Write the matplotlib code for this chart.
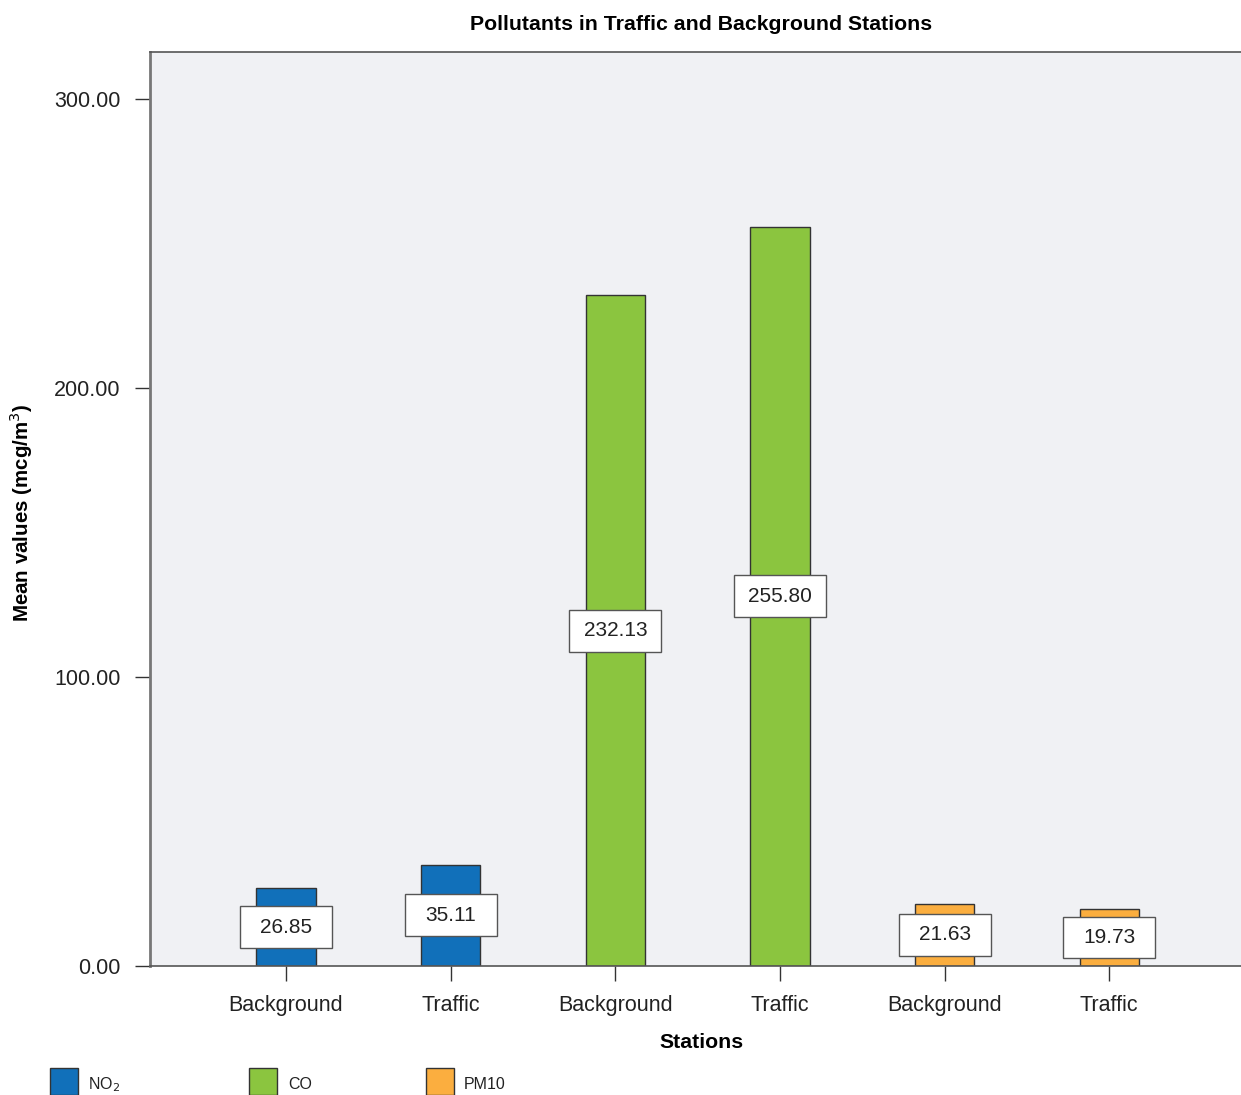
import numpy as np
import matplotlib.pyplot as plt
from matplotlib.patches import Rectangle

plt.rcParams['font.family'] = ['Liberation Sans', 'DejaVu Sans']

# Mean values per pollutant and station type
stations = ['Background', 'Traffic', 'Background', 'Traffic', 'Background', 'Traffic']
pollutants = ['NO$_2$', 'CO', 'PM10']
no2 = [26.85, 35.11]
co = [232.13, 255.80]
pm10 = [21.63, 19.73]
colors = ['#1170ba', '#8bc53f', '#fbae3f']

values = no2 + co + pm10
bar_colors = [colors[0]] * 2 + [colors[1]] * 2 + [colors[2]] * 2
x = np.arange(len(values))

fig = plt.figure(figsize=(12.41, 10.95), dpi=100)
ax = fig.add_axes([0.1209, 0.1178, 0.8791, 0.8347])
ax.set_facecolor('#f0f1f4')

ax.bar(x, values, width=0.36, color=bar_colors, edgecolor='#333333', linewidth=1.0, zorder=2)

# value labels in fixed-size white boxes at half bar height
box_w, box_h = 0.56, 14.5
for xi, v in zip(x, values):
    ax.add_patch(Rectangle((xi - box_w / 2, v / 2 - box_h / 2), box_w, box_h,
                           facecolor='white', edgecolor='#555555', linewidth=1.0, zorder=3))
    ax.text(xi, v / 2, f'{v:.2f}', ha='center', va='center', fontsize=15,
            color='#222222', zorder=4)

ax.set_xlim(-0.826, 5.80)
ax.set_ylim(0, 316.3)
ax.set_yticks([0, 100, 200, 300])
ax.set_yticklabels([f'{t:.2f}' for t in [0, 100, 200, 300]])
ax.set_xticks(x)
ax.set_xticklabels(stations)
ax.tick_params(axis='both', labelsize=15.5, labelcolor='#222222', color='#333333',
               length=11, width=1.0, pad=10)

for side in ['left', 'top', 'bottom']:
    ax.spines[side].set_color('#555555')
    ax.spines[side].set_linewidth(1.2)
ax.spines['left'].set_linewidth(2.0)
ax.spines['left'].set_color('#777777')
ax.spines['right'].set_visible(False)

ax.set_xlabel('Stations', fontsize=15.3, fontweight='bold', labelpad=12)
ax.xaxis.label.set_x(0.5055)
ax.set_ylabel('Mean values (mcg/m$^3$)', fontsize=14.8, fontweight='bold', labelpad=14)
ax.yaxis.label.set_y(0.496)
ax.set_title('Pollutants in Traffic and Background Stations', fontsize=15.3,
             fontweight='bold', pad=16, x=0.5055)

# legend row along the bottom of the figure
legend_x = [0.040, 0.201, 0.343]
for lx, name, c in zip(legend_x, pollutants, colors):
    fig.add_artist(Rectangle((lx, 0.0), 0.0225, 0.0245, transform=fig.transFigure,
                             facecolor=c, edgecolor='#333333', linewidth=1.0))
    fig.text(lx + 0.031, 0.0095, name, fontsize=11.5, va='center', color='#222222')

fig.savefig('out.png', dpi=100)
